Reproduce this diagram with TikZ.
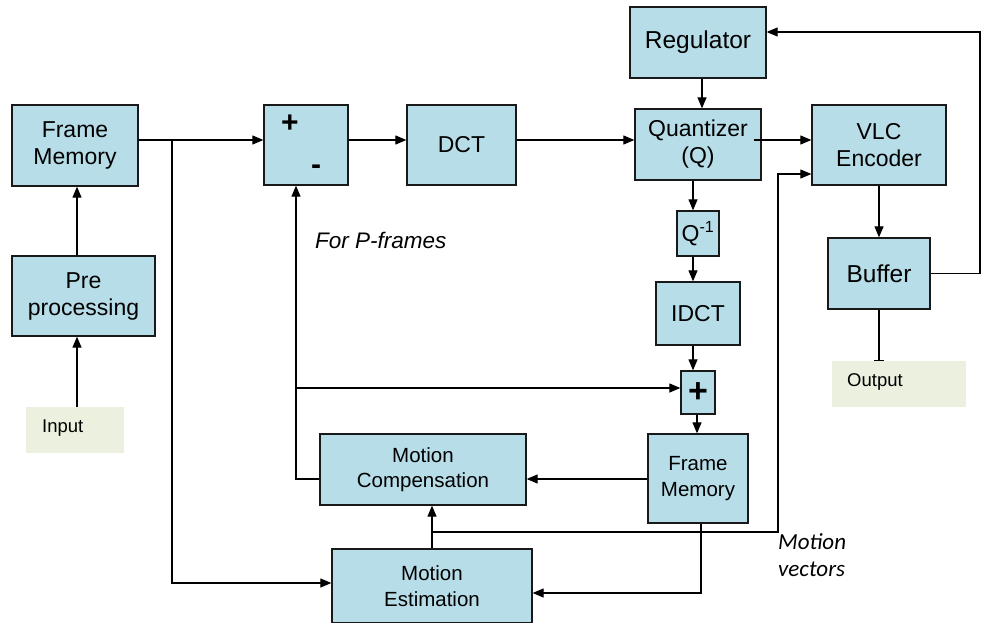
\documentclass[tikz,border=0pt]{standalone}
\usepackage{fontspec}
\setmainfont{Liberation Sans}
\newfontfamily\calib{Carlito}
\usetikzlibrary{arrows.meta}
\definecolor{boxblue}{HTML}{B7DDE8}
\definecolor{beige}{HTML}{EBF1DE}
\begin{document}
\begin{tikzpicture}[x=1pt,y=-1pt,
  blk/.style={draw=black!90, line width=1.3pt, fill=boxblue, inner sep=0pt, align=center, font=\fontsize{23}{27}\selectfont},
  sblk/.style={blk, font=\fontsize{20.5}{25.5}\selectfont},
  lbl/.style={fill=beige, inner sep=0pt},
  lbltxt/.style={font=\fontsize{18.5}{22}\selectfont, anchor=west, inner sep=0pt},
  con/.style={line width=1.2pt, draw=black},
  arr/.style={con, -{Triangle[length=11pt,width=9pt]}},
  tee/.style={con, -{Bar[width=10pt,line width=1.2pt]}}
]
\useasboundingbox (0,0) rectangle (996,623);
% boxes
\node[blk, minimum width=126pt, minimum height=81pt] (fm1) at (75,145.5) {Frame\\Memory};
\node[blk, minimum width=143pt, minimum height=80pt] (pre) at (83.5,296) {Pre\\processing};
\node[lbl, minimum width=98pt, minimum height=46pt] (in) at (75,430) {};
\node[lbltxt] (intxt) at (42,428) {Input};
\node[blk, minimum width=84pt, minimum height=80pt] (sum) at (306,145) {};
\node[font=\bfseries\fontsize{30}{32}\selectfont] (plus1) at (290,124) {+};
\node[font=\bfseries\fontsize{30}{32}\selectfont] (minus1) at (316,170) {-};
\node[blk, minimum width=109pt, minimum height=80pt] (dct) at (461.5,145) {DCT};
\node[blk, minimum width=136pt, minimum height=71pt, font=\fontsize{24.5}{28}\selectfont] (reg) at (698,42.5) {Regulator};
\node[blk, minimum width=126pt, minimum height=71pt] (q) at (698,144.5) {Quantizer\\(Q)};
\node[blk, minimum width=134pt, minimum height=80pt] (vlc) at (879,145) {VLC\\Encoder};
\node[blk, minimum width=42pt, minimum height=45pt] (qi) at (698,233.5) {Q\textsuperscript{-1}};
\node[blk, minimum width=84pt, minimum height=63pt] (idct) at (698,313.5) {IDCT};
\node[blk, minimum width=102pt, minimum height=71pt, font=\fontsize{24.5}{28}\selectfont] (buf) at (879,273.5) {Buffer};
\node[lbl, minimum width=134pt, minimum height=46pt] (out) at (899,384) {};
\node[lbltxt] (outtxt) at (847,382) {Output};
\node[blk, minimum width=34pt, minimum height=43pt, font=\bfseries\fontsize{34}{36}\selectfont] (add) at (698,392.5) {+};
\node[sblk, minimum width=100pt, minimum height=89pt] (fm2) at (698,478.5) {Frame\\Memory};
\node[sblk, minimum width=206pt, minimum height=71pt] (mc) at (423,469.5) {Motion\\Compensation};
\node[sblk, minimum width=200pt, minimum height=74pt] (me) at (432,586) {Motion\\Estimation};
\node[font=\itshape\fontsize{22.5}{26}\selectfont, anchor=west, inner sep=0pt] (pf) at (315,240) {For P-frames};
\node[font=\calib\itshape\fontsize{23}{27}\selectfont, anchor=north west, align=left, inner sep=0pt] (mv) at (778,533) {Motion\\vectors};
% junctions
\coordinate (j1) at (172,140);
\coordinate (j2) at (296,388);
\coordinate (j3) at (432,532);
% connectors
\draw[arr] (in.north -| 77,0) -- (pre.south -| 77,0);
\draw[arr] (pre.north -| 77,0) -- (fm1.south -| 77,0);
\draw[arr] (fm1.east |- j1) -- (sum.west |- j1);
\draw[arr] (j1) -- (172,583) -- (me.west |- 0,583);
\draw[arr] (sum.east |- j1) -- (dct.west |- j1);
\draw[arr] (dct.east |- j1) -- (q.west |- j1);
\draw[arr] (reg.south -| 702,0) -- (q.north -| 702,0);
\draw[arr] ([xshift=-8pt]q.east |- j1) -- (vlc.west |- j1);
\draw[arr] (q.south -| 693,0) -- (qi.north -| 693,0);
\draw[arr] (qi.south -| 693,0) -- (idct.north -| 693,0);
\draw[arr] (idct.south -| 693,0) -- (add.north -| 693,0);
\draw[arr] (add.south -| 697,0) -- (fm2.north -| 697,0);
\draw[arr] (fm2.west |- 0,479) -- (mc.east |- 0,479);
\draw[arr] (mc.west |- 0,479) -- (296,479) -- (sum.south -| 296,0);
\draw[arr] (j2) -- (add.west |- j2);
\draw[arr] (fm2.south -| 701,0) -- (701,593) -- (me.east |- 0,593);
\draw[arr] (me.north -| j3) -- (mc.south -| j3);
\draw[arr] (j3) -- (778,532) -- (778,174) -- (vlc.west |- 0,174);
\draw[arr] (vlc.south) -- (buf.north);
\draw[arr] (buf.east) -- (980,273.5) -- (980,32) -- (reg.east |- 0,32);
\draw[tee] (buf.south) -- (out.north -| buf.south);
\end{tikzpicture}
\end{document}
